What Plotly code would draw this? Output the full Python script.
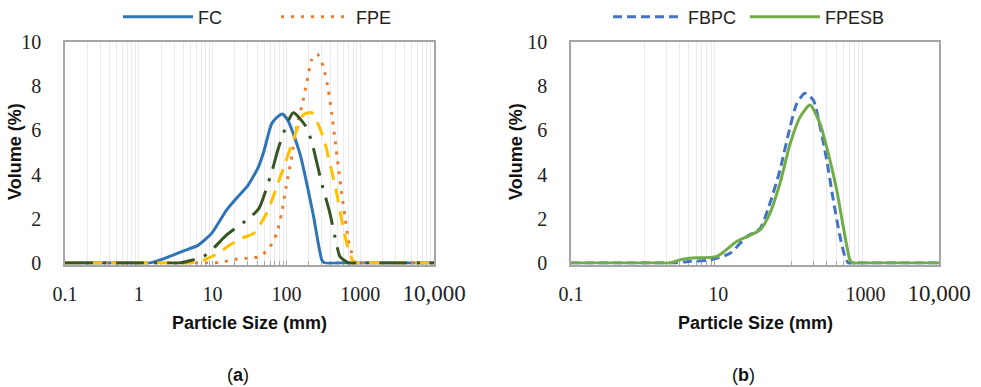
import plotly.graph_objects as go

# ---- particle size distributions, panel (a) ----
fc_x = [0.1, 0.5, 1.0, 1.4, 2.0, 2.9, 4.3, 6.4, 9.7, 15.5, 22, 30, 42, 50, 63, 75, 88, 105, 152, 229, 302, 330, 500, 2000, 10000]
fc_y = [0, 0, 0, 0, 0.15, 0.36, 0.58, 0.81, 1.34, 2.4, 3.0, 3.5, 4.36, 5.1, 6.3, 6.6, 6.74, 6.45, 4.96, 2.25, 0.14, 0, 0, 0, 0]

fpe_x = [0.1, 1, 5, 8, 12.6, 16.3, 21, 27, 36, 44, 60, 74, 86, 101, 118, 138, 161, 188, 220, 262, 316, 370, 411, 456, 505, 561, 622, 690, 767, 807, 850, 1200, 3000, 10000]
fpe_y = [0, 0, 0, 0, 0.02, 0.1, 0.17, 0.21, 0.24, 0.29, 0.74, 1.34, 2.25, 3.6, 4.81, 6.17, 7.07, 8.13, 9.19, 9.46, 8.88, 7.83, 6.77, 5.57, 4.36, 3.15, 2.1, 1.04, 0.44, 0.1, 0, 0, 0, 0]

fcs_x = [0.1, 1, 3, 5, 7.4, 12, 16.3, 25, 36, 54, 74, 96, 124, 169, 220, 316, 389, 481, 561, 656, 728, 800, 850, 1200, 3000, 10000]
fcs_y = [0, 0, 0, 0, 0.12, 0.44, 0.77, 1.12, 1.34, 2.25, 3.45, 4.5, 5.57, 6.7, 6.8, 5.7, 4.5, 3.15, 1.95, 0.9, 0.44, 0.05, 0, 0, 0, 0]

fpes_x = [0.1, 1, 2.5, 3.5, 7.5, 10.8, 15.5, 30.5, 42.5, 51, 66.5, 76, 91, 124, 182, 220, 301, 389, 470, 532, 656, 700, 1000, 3000, 10000]
fpes_y = [0, 0, 0, 0, 0.29, 0.74, 1.27, 2.0, 2.47, 3.15, 4.36, 5.08, 5.87, 6.8, 6.2, 5.49, 3.6, 2.25, 0.97, 0.29, 0.05, 0, 0, 0, 0]

# ---- panel (b) ----
fbpc_x = [0.1, 0.5, 1.5, 2.6, 3.7, 7.8, 14.5, 24.4, 37, 50.5, 69, 95, 117, 151, 196, 242, 298, 366, 452, 528, 586, 800, 3000, 10000]
fbpc_y = [0, 0, 0, 0, 0.06, 0.14, 0.44, 1.19, 1.55, 2.7, 4.2, 6.17, 7.22, 7.68, 7.37, 6.17, 4.66, 2.85, 1.19, 0.29, 0, 0, 0, 0]

fpesb_x = [0.1, 0.5, 1.5, 2.2, 3.0, 4.1, 9.6, 17.8, 37, 50.5, 69, 95, 129, 177, 242, 313, 408, 501, 617, 676, 900, 3000, 10000]
fpesb_y = [0, 0, 0, 0, 0.14, 0.22, 0.3, 0.97, 1.5, 2.25, 3.6, 5.4, 6.6, 7.15, 6.3, 4.96, 3.3, 1.64, 0.14, 0, 0, 0, 0]

x_ticks_a = [0.1, 1, 10, 100, 1000, 10000]
x_ticks_b = [0.1, 10, 1000, 10000]
y_ticks = [0, 2, 4, 6, 8, 10]


def tick_text(v):
    if v == 10000:
        return "<span style='font-size:23px'>10,000</span>"
    return "0.1" if v == 0.1 else str(int(v))


minor_a = [m * 10 ** e for e in range(-1, 4) for m in range(2, 10)]
minor_b = [float(m) for m in range(1, 10)] + [m * 100.0 for m in range(1, 10)]

GRID = "#EBEBEB"
AXIS = "#A6A6A6"
TICKFONT = dict(family="Liberation Serif", size=20, color="#222222")

fig = go.Figure()

SM = 0.6
fig.add_trace(go.Scatter(x=fc_x, y=fc_y, name="FC", mode="lines", xaxis="x", yaxis="y", legend="legend",
                         line=dict(color="#2E75B6", width=3, shape="spline", smoothing=SM)))
fig.add_trace(go.Scatter(x=fpe_x, y=fpe_y, name="FPE", mode="lines", xaxis="x", yaxis="y", legend="legend",
                         line=dict(color="#ED7D31", width=3, dash="3px,7px", shape="spline", smoothing=SM)))
fig.add_trace(go.Scatter(x=fcs_x, y=fcs_y, name="FCS", mode="lines", xaxis="x", yaxis="y", showlegend=False,
                         line=dict(color="#FFC000", width=3, dash="14px,9px", shape="spline", smoothing=SM)))
fig.add_trace(go.Scatter(x=fpes_x, y=fpes_y, name="FPES", mode="lines", xaxis="x", yaxis="y", showlegend=False,
                         line=dict(color="#375623", width=3, dash="28px,10px,3px,10px", shape="spline", smoothing=SM)))

fig.add_trace(go.Scatter(x=fbpc_x, y=fbpc_y, name="FBPC", mode="lines", xaxis="x2", yaxis="y2", legend="legend2",
                         legendwidth=52,
                         line=dict(color="#4472C4", width=3, dash="9px,5px", shape="spline", smoothing=SM)))
fig.add_trace(go.Scatter(x=fpesb_x, y=fpesb_y, name="FPESB", mode="lines", xaxis="x2", yaxis="y2", legend="legend2",
                         legendwidth=75,
                         line=dict(color="#70AD47", width=3, shape="spline", smoothing=SM)))

# a small margin below zero keeps the full width of the baseline strokes visible
Y_LOW = -0.07
PX_PER_UNIT = 22.1
ydom = [1 - (263 - Y_LOW * PX_PER_UNIT) / 387, 1 - 42 / 387]


def xaxis(dom, ticks, minor_vals, anchor, major_marks):
    return dict(
        type="log", range=[-1, 4], domain=dom, anchor=anchor,
        tickmode="array", tickvals=ticks, ticktext=[tick_text(v) for v in ticks],
        tickfont=TICKFONT, ticks="inside" if major_marks else "", ticklen=4, tickcolor=AXIS,
        showgrid=major_marks, gridcolor=GRID, gridwidth=1,
        minor=dict(tickmode="array", tickvals=minor_vals, showgrid=True, gridcolor=GRID,
                   ticks="inside", ticklen=4, tickcolor=AXIS),
        showline=True, linecolor=AXIS, linewidth=1.5, mirror=True,
        ticklabelstandoff=11, automargin=False, layer="below traces",
    )


def yaxis(anchor):
    return dict(
        range=[Y_LOW, 10], domain=ydom, anchor=anchor,
        tickmode="array", tickvals=y_ticks, tickfont=TICKFONT, ticks="",
        showgrid=False, zeroline=False,
        showline=True, linecolor=AXIS, linewidth=1.5, mirror=True,
        ticklabelstandoff=18, automargin=False, layer="below traces",
    )


LEGFONT = dict(family="Liberation Sans", size=18, color="#222222")
fig.update_layout(
    width=981, height=387, margin=dict(l=0, r=0, t=0, b=0, autoexpand=False),
    paper_bgcolor="white", plot_bgcolor="white",
    xaxis=xaxis([65 / 981, 434 / 981], x_ticks_a, minor_a, "y", True),
    yaxis=yaxis("x"),
    xaxis2=xaxis([571 / 981, 939 / 981], x_ticks_b, minor_b, "y2", False),
    yaxis2=yaxis("x2"),
    legend=dict(orientation="h", x=118 / 981, y=1 - 17 / 387, xanchor="left", yanchor="middle",
                font=LEGFONT, itemwidth=70, entrywidth=73, bgcolor="rgba(0,0,0,0)"),
    legend2=dict(orientation="h", x=608 / 981, y=1 - 17 / 387, xanchor="left", yanchor="middle",
                 font=LEGFONT, itemwidth=70, bgcolor="rgba(0,0,0,0)"),
    showlegend=True,
)

TITLE = dict(family="Liberation Sans", size=18, color="#111111")
annotations = []
for cx, lx, lab in [(249.5, 15, "a"), (755, 516, "b")]:
    annotations.append(dict(text="<b>Particle Size (mm)</b>", x=cx / 981, y=1 - 323 / 387, xref="paper", yref="paper",
                            showarrow=False, font=TITLE, xanchor="center", yanchor="middle"))
    annotations.append(dict(text="<b>Volume (%)</b>", x=lx / 981, y=1 - 152 / 387, xref="paper", yref="paper",
                            showarrow=False, font=TITLE, textangle=-90, xanchor="center", yanchor="middle"))
    annotations.append(dict(text="(<b>%s</b>)" % lab, x=(cx - 12) / 981, y=1 - 375 / 387,
                            xref="paper", yref="paper", showarrow=False,
                            font=dict(family="Liberation Sans", size=18, color="#111111"),
                            xanchor="center", yanchor="middle"))
fig.update_layout(annotations=annotations)

fig.write_html("out.html")
